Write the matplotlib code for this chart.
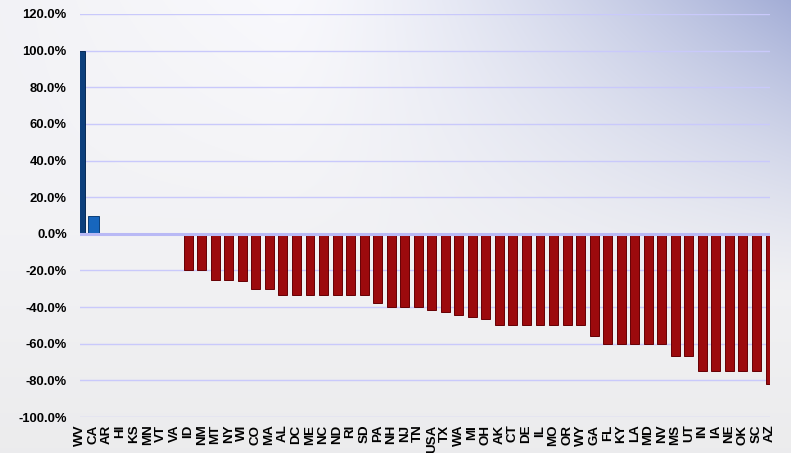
import numpy as np
import matplotlib
matplotlib.use("Agg")
import matplotlib.pyplot as plt
from matplotlib.ticker import FuncFormatter

states = ["WV", "CA", "AR", "HI", "KS", "MN", "VT", "VA", "ID", "NM", "MT", "NY",
          "WI", "CO", "MA", "AL", "DC", "ME", "NC", "ND", "RI", "SD", "PA", "NH",
          "NJ", "TN", "USA", "TX", "WA", "MI", "OH", "AK", "CT", "DE", "IL", "MO",
          "OR", "WY", "GA", "FL", "KY", "LA", "MD", "NV", "MS", "UT", "IN", "IA",
          "NE", "OK", "SC", "AZ"]
change_pct = [100.0, 10.0, 0.0, 0.0, 0.0, 0.0, 0.0, 0.0, -20.0, -20.0, -25.0, -25.0,
              -26.0, -30.0, -30.0, -33.3, -33.3, -33.3, -33.3, -33.3, -33.3, -33.3, -37.5, -40.0,
              -40.0, -40.0, -41.5, -42.9, -44.4, -45.5, -46.7, -50.0, -50.0, -50.0, -50.0, -50.0,
              -50.0, -50.0, -55.6, -60.0, -60.0, -60.0, -60.0, -60.0, -66.7, -66.7, -75.0, -75.0,
              -75.0, -75.0, -75.0, -81.8]
y_ticks = [-100, -80, -60, -40, -20, 0, 20, 40, 60, 80, 100, 120]

W, H = 791, 453
fig = plt.figure(figsize=(W / 100, H / 100), dpi=100)

# soft background: light grey fading to lavender blue in the upper right
yy, xx = np.mgrid[0:H, 0:W]
xn = xx / (W - 1)
yn = yy / (H - 1)
top = np.array([0.975, 0.975, 0.99])
bottom = np.array([0.925, 0.925, 0.93])
base = top[None, None, :] * (1 - yn[..., None]) + bottom[None, None, :] * yn[..., None]
left_dim = np.clip(1 - xn / 0.35, 0, 1) * np.clip(1 - yn / 0.5, 0, 1) * 0.025
base = base - left_dim[..., None]
w = np.clip((xn - 0.36) / 0.64, 0, 1) ** 1.4 * np.clip(1 - yn / 0.65, 0, 1) ** 1.2
blue = np.array([0.64, 0.68, 0.84])
bg = base * (1 - w[..., None]) + blue[None, None, :] * w[..., None]
bg_ax = fig.add_axes([0, 0, 1, 1], zorder=0)
bg_ax.imshow(bg, aspect="auto", extent=[0, 1, 0, 1], interpolation="bilinear")
bg_ax.axis("off")

ax = fig.add_axes([80 / W, (H - 417) / H, (770 - 80) / W, (417 - 14) / H], zorder=1)
ax.patch.set_alpha(0)

x = np.arange(len(states))
vals = np.array(change_pct)
colors = []
edges = []
widths = []
for s, v in zip(states, vals):
    if s == "WV":
        colors.append("#0c3f7c"); edges.append("#072a55"); widths.append(0.7)
    elif v > 0:
        colors.append("#1766bd"); edges.append("#0b3f7a"); widths.append(0.8)
    else:
        colors.append("#9c0a0d"); edges.append("#660004"); widths.append(0.66)

for yv in y_ticks:
    if yv == 0:
        continue
    ax.axhline(yv, color="#c9c9fb", lw=1.0, zorder=1)
ax.bar(x, vals, width=widths, color=colors, edgecolor=edges, linewidth=0.7, zorder=2)
ax.axhline(0, color="#b9b9f5", lw=2.2, zorder=3)

ax.set_xlim(0, len(states) - 1)
ax.set_ylim(-100, 120)
ax.set_yticks(y_ticks)
ax.yaxis.set_major_formatter(FuncFormatter(lambda v, p: f"{v:.1f}%"))
ax.set_xticks(x)
ax.set_xticklabels(states, rotation=90, ha="center", va="top")

for lbl in ax.get_yticklabels():
    lbl.set_fontfamily("Liberation Sans")
    lbl.set_fontweight("bold")
    lbl.set_fontsize(9.4)
for lbl in ax.get_xticklabels():
    lbl.set_fontfamily("Liberation Sans")
    lbl.set_fontweight("bold")
    lbl.set_fontsize(9.6)

ax.tick_params(axis="y", length=0, pad=9.5)
ax.tick_params(axis="x", length=0, pad=5.5)
for sp in ax.spines.values():
    sp.set_visible(False)

fig.savefig("out.png", dpi=100)
